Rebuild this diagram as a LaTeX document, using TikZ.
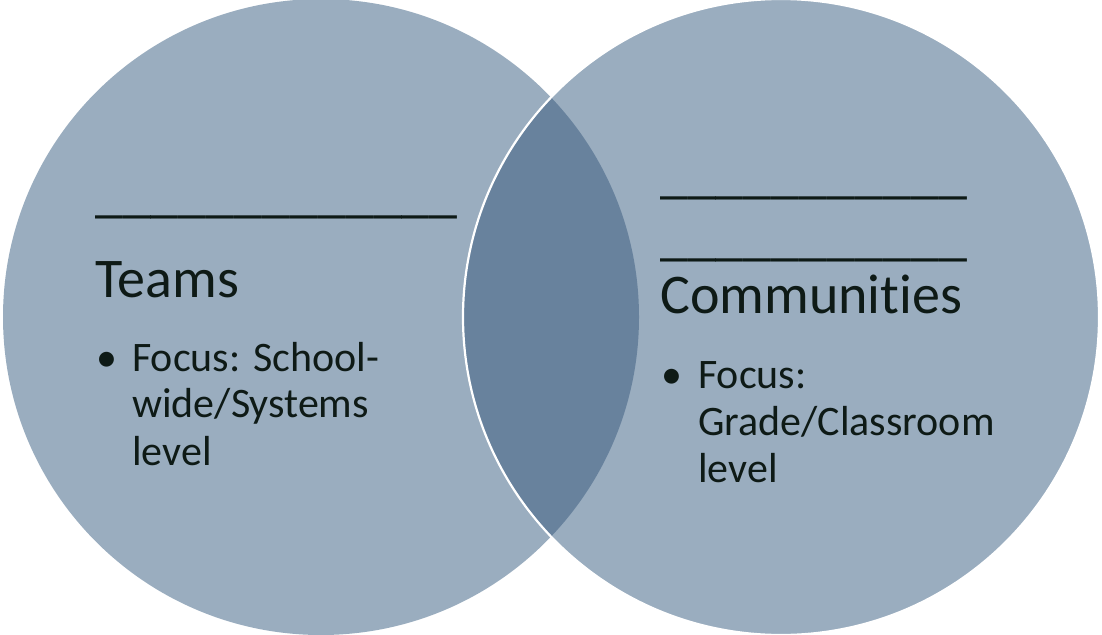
\documentclass[tikz,border=0pt]{standalone}
\usepackage{fontspec}
\setmainfont{Carlito}[Ligatures=CommonOff]
\definecolor{venn}{RGB}{154,173,191}
\definecolor{overlap}{RGB}{104,130,157}
\definecolor{ink}{RGB}{14,26,22}
\begin{document}
\begin{tikzpicture}[x=1pt,y=-1pt]
    \tikzstyle{head}=[anchor=base west,inner sep=0pt,text=ink,font=\fontsize{56}{60}\selectfont]
    \tikzstyle{item}=[anchor=base west,inner sep=0pt,text=ink,font=\fontsize{42}{46}\selectfont]
      \useasboundingbox (0,0) rectangle (1102,634);
      \coordinate (L) at (321,317);
      \coordinate (R) at (781,317);

      \fill[venn] (L) circle (318pt);
      \fill[venn] (R) circle (318pt);
      \begin{scope}
        \clip (L) circle (318pt);
        \fill[overlap] (R) circle (318pt);
      \end{scope}
      \draw[white,line width=2.2pt] (R) circle (318pt);

      % left circle
      \node (Lline) at (95, 211) [head] {\_\_\_\_\_\_\_\_\_\_\_\_\_};
      \node (Teams) at (95, 297) [head] {Teams};
      \node (Lbul) at (96, 371) [item] {•};
      \node (L1) at (132, 371) [item] {Focus: School-};
      \node (L2) at (132, 417) [item] {wide/Systems};
      \node (L3) at (132, 465) [item] {level};

      % right circle
      \node (Rline1) at (660, 192) [head] {\_\_\_\_\_\_\_\_\_\_\_};
      \node (Rline2) at (660, 254) [head] {\_\_\_\_\_\_\_\_\_\_\_};
      \node (Comm) at (660, 313) [head] {Communities};
      \node (Rbul) at (661, 388) [item] {•};
      \node (R1) at (698, 388) [item] {Focus:};
      \node (R2) at (698, 435) [item] {Grade/Classroom};
      \node (R3) at (698, 482) [item] {level};
  \end{tikzpicture}
\end{document}
